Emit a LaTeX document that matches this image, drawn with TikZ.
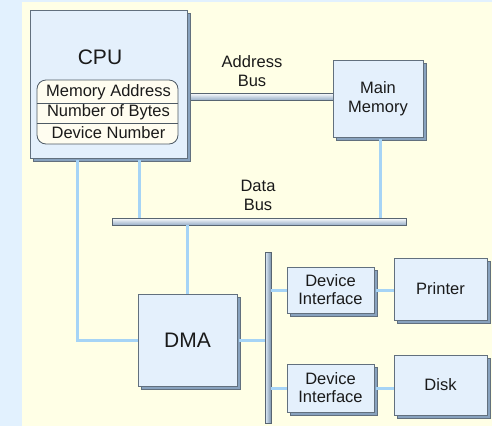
\documentclass[tikz,border=0pt]{standalone}
\usepackage{fontspec}
\setmainfont{Liberation Sans}
\usetikzlibrary{shadows}
\definecolor{outerbg}{HTML}{E2F1FE}
\definecolor{innerbg}{HTML}{FFFFE6}
\definecolor{boxfill}{HTML}{E4F0FC}
\definecolor{boxline}{HTML}{62707E}
\definecolor{shadowc}{HTML}{88A2BE}
\definecolor{linkc}{HTML}{A6D4F6}
\definecolor{txt}{HTML}{1A1A1A}
\definecolor{tablefill}{HTML}{FFFDF0}
\begin{document}
\begin{tikzpicture}[x=1pt,y=-1pt,
  every node/.style={text=txt,font=\fontsize{16.5}{19}\selectfont,inner sep=0pt},
  unit/.style={draw=boxline,fill=boxfill,line width=0.8pt,align=center,
    drop shadow={shadow xshift=3pt,shadow yshift=-3pt,opacity=1,fill=shadowc,draw=boxline,line width=0.7pt}},
  hbus/.style={draw=boxline!90!black,line width=0.8pt,top color=white!92!boxfill,bottom color=shadowc!85!white,minimum height=7pt},
  vbus/.style={draw=boxline!90!black,line width=0.8pt,left color=boxfill,right color=shadowc!90!black,minimum width=6pt},
  link/.style={draw=linkc,line width=3pt},
  big/.style={font=\fontsize{21}{24}\selectfont},
  tbl/.style={draw=boxline!80!black,fill=tablefill,line width=0.8pt,rounded corners=9pt}
]
\fill[outerbg] (0,0) rectangle (492,426);
\fill[innerbg] (22,2) rectangle (492,426);
\useasboundingbox (0,0) rectangle (492,426);

% buses
\node[hbus,minimum width=148pt] (abus) at (260,96.5) {};
\node[hbus,minimum width=294pt] (dbus) at (259,221.5) {};
\node[vbus,minimum height=171pt] (vbus) at (268,337.5) {};

% boxes
\node[unit,minimum width=157pt,minimum height=148pt] (cpu) at (108.5,84) {};
\node[big] (cputxt) at (100,57) {CPU};
\node[tbl,minimum width=141pt,minimum height=64pt] (tab) at (107.5,112) {};
\draw[boxline!80!black,line width=0.8pt] (tab.west |- 0,103) -- (tab.east |- 0,103);
\draw[boxline!80!black,line width=0.8pt] (tab.west |- 0,123) -- (tab.east |- 0,123);
\node (r1) at (108.5,92) {Memory Address};
\node (r2) at (108.5,112.5) {Number of Bytes};
\node (r3) at (108.5,133) {Device Number};

\node[unit,minimum width=90pt,minimum height=77pt] (mem) at (378,98.5) {Main\\Memory};
\node[unit,big,minimum width=99pt,minimum height=92pt] (dma) at (187.5,340) {DMA};
\node[unit,minimum width=87pt,minimum height=46pt] (di1) at (330.5,290) {Device\\[-1pt]Interface};
\node[unit,minimum width=87pt,minimum height=48pt] (di2) at (330.5,388) {Device\\[-1pt]Interface};
\node[unit,minimum width=93pt,minimum height=62pt] (prn) at (440.5,289) {Printer};
\node[unit,minimum width=93pt,minimum height=60pt] (dsk) at (440.5,385) {Disk};

\node[align=center] (alab) at (252,71) {Address\\Bus};
\node[align=center] (dlab) at (258,195.5) {Data\\Bus};

% connectors
\coordinate (xa) at (77,0);
\coordinate (xb) at (139,0);
\coordinate (xm) at (380,0);
\draw[link] ([yshift=-2pt]cpu.south -| xa) |- (dma.west);
\draw[link] ([yshift=-2pt]cpu.south -| xb) -- (dbus.north -| xb);
\draw[link] ([yshift=-2pt]mem.south -| xm) -- (dbus.north -| xm);
\draw[link] (dbus.south -| dma.north) -- (dma.north);
\draw[link] ([xshift=2pt]dma.east) -- (vbus.west |- dma.east);
\draw[link] (vbus.east |- di1.west) -- (di1.west);
\draw[link] (vbus.east |- di2.west) -- (di2.west);
\draw[link] ([xshift=2pt]di1.east) -- (prn.west |- di1.east);
\draw[link] ([xshift=2pt]di2.east) -- (dsk.west |- di2.east);
\end{tikzpicture}
\end{document}
